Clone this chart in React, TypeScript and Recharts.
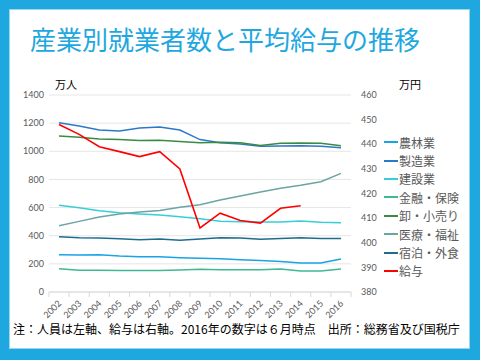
import React from 'react';
import { LineChart, Line, XAxis, YAxis, CartesianGrid, Legend } from 'recharts';

const years = ['2002', '2003', '2004', '2005', '2006', '2007', '2008', '2009', '2010', '2011', '2012', '2013', '2014', '2015', '2016'];

// 万人 (left axis)
const agri = [265, 263, 265, 256, 251, 251, 244, 240, 237, 230, 223, 216, 206, 206, 235];
const manu = [1203, 1180, 1151, 1144, 1165, 1173, 1151, 1083, 1061, 1052, 1035, 1038, 1040, 1035, 1026];
const constr = [616, 599, 578, 564, 554, 547, 535, 520, 502, 500, 497, 497, 505, 495, 493];
const finance = [166, 154, 154, 152, 152, 152, 156, 162, 158, 158, 158, 163, 149, 149, 163];
const retail = [1109, 1099, 1087, 1083, 1076, 1078, 1069, 1061, 1064, 1061, 1042, 1057, 1059, 1057, 1040];
const medical = [471, 502, 533, 554, 569, 580, 602, 620, 654, 682, 711, 737, 758, 784, 843];
const hospitality = [393, 386, 384, 379, 372, 377, 367, 377, 386, 384, 374, 381, 386, 381, 381];
// 万円 (right axis)
const salary = [448, 444, 439, 437, 435, 437, 430, 406, 412, 409, 408, 414, 415, null, null];

const leftTicks = [0, 200, 400, 600, 800, 1000, 1200, 1400];
const rightTicks = [380, 390, 400, 410, 420, 430, 440, 450, 460];

const series = [
  { key: 'agri', name: '農林業', color: '#1aa3e6', values: agri, axis: 'l' },
  { key: 'manu', name: '製造業', color: '#2b79c9', values: manu, axis: 'l' },
  { key: 'constr', name: '建設業', color: '#35cfd9', values: constr, axis: 'l' },
  { key: 'finance', name: '金融・保険', color: '#40b894', values: finance, axis: 'l' },
  { key: 'retail', name: '卸・小売り', color: '#3b8a44', values: retail, axis: 'l' },
  { key: 'medical', name: '医療・福祉', color: '#6aa5a3', values: medical, axis: 'l' },
  { key: 'hospitality', name: '宿泊・外食', color: '#1d6d8e', values: hospitality, axis: 'l' },
  { key: 'salary', name: '給与', color: '#ff0000', values: salary, axis: 'r' },
];

const data = years.map((y, i) => {
  const row: Record<string, any> = { year: y };
  series.forEach((s) => (row[s.key] = s.values[i]));
  return row;
});

const FONT = "Lato, 'Noto Sans CJK JP', sans-serif";
const JP = "'Noto Sans CJK JP', sans-serif";
const PLOT_W = 302;
const PAD = 10;
const STEP = (PLOT_W - 2 * PAD) / (years.length - 1);

const XTick = (props: any) => {
  const { x, y, payload, index } = props;
  const last = index === years.length - 1;
  return (
    <g>
      <line x1={x - STEP / 2} y1={y} x2={x - STEP / 2} y2={y + 5} stroke="#d9d9d9" />
      {last && <line x1={x + STEP / 2} y1={y} x2={x + STEP / 2} y2={y + 5} stroke="#d9d9d9" />}
      <text
        x={x + 3}
        y={y + 12}
        transform={`rotate(-45 ${x + 3} ${y + 12})`}
        textAnchor="end"
        fontSize={9}
        fill="#595959"
        fontFamily={FONT}
      >
        {payload.value}
      </text>
    </g>
  );
};

const LegendList = () => (
  <div style={{ fontFamily: JP, fontSize: 12, color: '#595959' }}>
    {series.map((s) => (
      <div key={s.key} style={{ display: 'flex', alignItems: 'center', height: 18.4 }}>
        <span style={{ display: 'inline-block', width: 14, height: 2, background: s.color, marginRight: 1 }} />
        <span>{s.name}</span>
      </div>
    ))}
  </div>
);

export default function App() {
  return (
    <div style={{ position: 'absolute', left: 0, top: 0, width: 480, height: 360, background: '#1fa8e0' }}>
      <div
        style={{
          position: 'absolute',
          left: 9,
          top: 9,
          width: 459,
          height: 338,
          background: '#fff',
          border: '1px solid #9bd6f0',
        }}
      />
      <div
        style={{
          position: 'absolute',
          left: 30,
          top: 22,
          fontFamily: JP,
          fontSize: 26,
          color: '#1fa8e0',
          whiteSpace: 'nowrap',
          lineHeight: '34px',
        }}
      >
        産業別就業者数と平均給与の推移
      </div>
      <div style={{ position: 'absolute', left: 55, top: 76, fontFamily: JP, fontSize: 11, color: '#000' }}>万人</div>
      <div style={{ position: 'absolute', left: 399, top: 76, fontFamily: JP, fontSize: 11, color: '#000' }}>万円</div>
      <div style={{ position: 'absolute', left: 0, top: 0 }}>
        <LineChart width={480} height={360} data={data} margin={{ top: 95, right: 6, bottom: 28, left: 0 }}>
          <CartesianGrid vertical={false} stroke="#e6e6e6" yAxisId="l" />
          <XAxis
            dataKey="year"
            interval={0}
            padding={{ left: PAD, right: PAD }}
            height={40}
            tickSize={0}
            tickMargin={0}
            tickLine={false}
            stroke="#d9d9d9"
            tick={<XTick />}
          />
          <YAxis
            yAxisId="l"
            domain={[0, 1400]}
            ticks={leftTicks}
            width={49}
            axisLine={false}
            tickLine={false}
            tickSize={0}
            tickMargin={5}
            tick={{ fontSize: 9, fill: '#595959', fontFamily: FONT }}
          />
          <YAxis
            yAxisId="r"
            orientation="right"
            domain={[380, 460]}
            ticks={rightTicks}
            width={33}
            axisLine={false}
            tickLine={false}
            tickSize={0}
            tickMargin={10}
            tick={{ fontSize: 9, fill: '#595959', fontFamily: FONT, textAnchor: 'start' }}
          />
          <Legend
            layout="vertical"
            align="right"
            verticalAlign="top"
            content={<LegendList />}
            wrapperStyle={{ width: 90, top: 133, left: 384 }}
          />
          {series.map((s) => (
            <Line
              key={s.key}
              yAxisId={s.axis}
              dataKey={s.key}
              name={s.name}
              stroke={s.color}
              strokeWidth={s.key === 'salary' ? 1.6 : 1.5}
              dot={false}
              type="linear"
              isAnimationActive={false}
            />
          ))}
        </LineChart>
      </div>
      <div
        style={{
          position: 'absolute',
          left: 13,
          top: 320,
          fontFamily: JP,
          fontSize: 12,
          color: '#000',
          whiteSpace: 'nowrap',
        }}
      >
        注：人員は左軸、給与は右軸。2016年の数字は６月時点　出所：総務省及び国税庁
      </div>
    </div>
  );
}
